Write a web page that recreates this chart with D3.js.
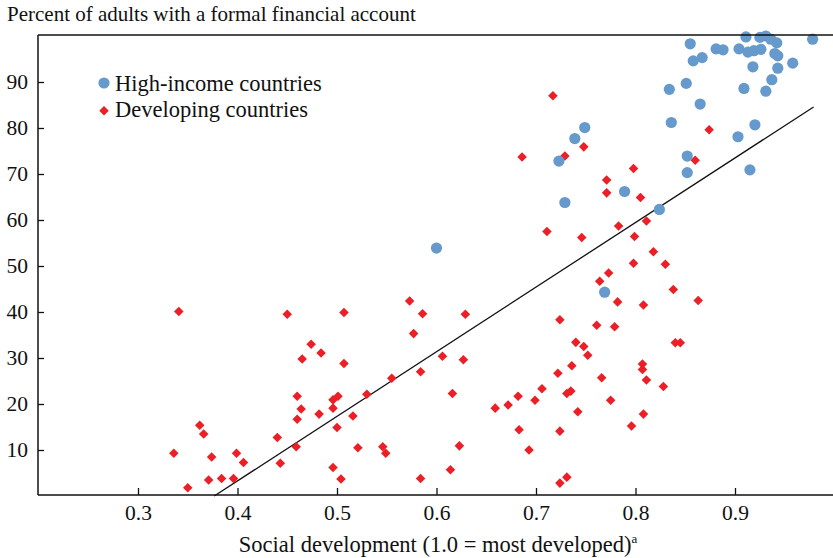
<!DOCTYPE html>
<html><head><meta charset="utf-8">
<script src="https://cdn.jsdelivr.net/npm/d3@7"></script>
<style>body{margin:0;background:#fff}svg{display:block}text{font-family:"Liberation Serif","Times New Roman",serif;fill:#111}</style>
</head><body><svg id="c" width="833" height="558"></svg>
<script>
const highIncomeX = [0.600,0.723,0.729,0.739,0.749,0.769,0.789,0.824,0.834,0.836,0.851,0.852,0.852,0.855,0.858,0.867,0.865,0.881,0.888,0.903,0.904,0.909,0.911,0.913,0.915,0.918,0.919,0.920,0.925,0.926,0.931,0.931,0.936,0.937,0.940,0.942,0.943,0.943,0.958,0.978];
const highIncomeY = [53.9,72.8,63.8,77.7,80.1,44.3,66.2,62.3,88.4,81.2,89.7,73.9,70.3,98.3,94.6,95.3,85.2,97.2,97.0,78.1,97.2,88.6,99.8,96.5,70.9,93.3,96.8,80.7,99.7,97.1,100,88.0,99.3,90.5,96.2,98.5,95.7,93.0,94.1,99.3];
const developingX = [0.341,0.450,0.507,0.474,0.484,0.465,0.507,0.460,0.464,0.460,0.482,0.496,0.501,0.496,0.500,0.362,0.366,0.336,0.374,0.399,0.406,0.440,0.459,0.443,0.496,0.504,0.350,0.371,0.384,0.396,
0.573,0.586,0.629,0.577,0.606,0.627,0.584,0.555,0.530,0.616,0.516,0.659,0.672,0.682,0.683,0.521,0.546,0.549,0.623,0.614,0.584,
0.764,0.782,0.808,0.838,0.724,0.761,0.779,0.740,0.748,0.752,0.736,0.722,0.807,0.807,0.811,0.828,0.766,0.706,0.699,0.731,0.735,0.775,0.742,0.808,0.796,0.724,0.693,0.724,0.731,
0.818,0.830,0.863,0.840,0.845,0.717,0.748,0.686,0.729,0.798,0.771,0.771,0.805,0.811,0.711,0.746,0.783,0.799,0.798,0.773,0.874,0.860];
const developingY = [40.1,39.5,39.9,33.0,31.1,29.8,28.8,21.7,18.9,16.7,17.8,20.9,21.7,19.1,14.9,15.4,13.5,9.3,8.5,9.3,7.3,12.7,10.7,7.1,6.2,3.7,1.8,3.5,3.8,3.8,
42.4,39.6,39.5,35.3,30.4,29.6,27.0,25.6,22.1,22.3,17.4,19.1,19.8,21.7,14.4,10.5,10.7,9.3,10.9,5.7,3.8,
46.7,42.2,41.5,44.9,38.3,37.1,36.8,33.4,32.5,30.6,28.3,26.7,28.7,27.5,25.2,23.8,25.7,23.3,20.8,22.3,22.8,20.8,18.3,17.8,15.2,14.1,10.0,2.8,4.1,
53.1,50.4,42.5,33.3,33.3,87.0,75.9,73.7,73.9,71.2,68.7,65.9,64.9,59.8,57.5,56.2,58.7,56.4,50.6,48.5,79.6,73.0];
const fitLineX = [0.3766, 0.979];
const fitSlope = 140.4, fitIntercept = -52.87;
const xTickValues = [0.3,0.4,0.5,0.6,0.7,0.8,0.9];
const yTickValues = [10,20,30,40,50,60,70,80,90];
const seriesNames = ["High-income countries","Developing countries"];

const svg = d3.select("#c");
const L=38, R=833, T=35, B=495;
const x = d3.scaleLinear().domain([0.2,1.0]).range([L+0.5,L+0.5+796]);
const y = d3.scaleLinear().domain([0,100]).range([B+1,B+1-460]);
const blue="#6699cc", red="#ec1f26";

svg.append("text").attr("x",7).attr("y",21).attr("font-size",21).text("Percent of adults with a formal financial account");

// regression line
svg.append("line").attr("x1",x(fitLineX[0])).attr("y1",y(fitSlope*fitLineX[0]+fitIntercept))
  .attr("x2",x(fitLineX[1])).attr("y2",y(fitSlope*fitLineX[1]+fitIntercept))
  .attr("stroke","#111").attr("stroke-width",1.3);

// developing
const diamond = d3.symbol().type(d3.symbolDiamond2).size(58);
svg.append("g").selectAll("path").data(developingX.map((d,i)=>[d,developingY[i]])).join("path")
  .attr("d",diamond).attr("transform",d=>`translate(${x(d[0])},${y(d[1])})`).attr("fill",red);
// high-income
svg.append("g").selectAll("circle").data(highIncomeX.map((d,i)=>[d,highIncomeY[i]])).join("circle")
  .attr("cx",d=>x(d[0])).attr("cy",d=>y(d[1])).attr("r",5.6).attr("fill",blue);

// frame
const fr = svg.append("g").attr("stroke","#111").attr("stroke-width",1.5);
fr.append("line").attr("x1",L).attr("x2",R).attr("y1",T).attr("y2",T);
fr.append("line").attr("x1",L).attr("x2",R).attr("y1",B).attr("y2",B);
fr.append("line").attr("x1",L).attr("x2",L).attr("y1",T).attr("y2",B);

// axes
const xa = svg.append("g").attr("transform",`translate(0,${B})`)
  .call(d3.axisBottom(x).tickValues(xTickValues).tickFormat(d3.format(".1f")).tickSize(-7).tickPadding(10));
xa.select(".domain").remove();
xa.selectAll("line").attr("stroke","#111").attr("stroke-width",1.3);
xa.selectAll("text").attr("font-size",21.5).attr("font-family","Liberation Serif").attr("fill","#111");

const ya = svg.append("g").attr("transform",`translate(${L},0)`)
  .call(d3.axisLeft(y).tickValues(yTickValues).tickSize(-6).tickPadding(10));
ya.select(".domain").remove();
ya.selectAll("line").attr("stroke","#111").attr("stroke-width",1.3);
ya.selectAll("text").attr("font-size",21.5).attr("font-family","Liberation Serif").attr("fill","#111");

// x label
const xl = svg.append("text").attr("x",438).attr("y",551.5).attr("text-anchor","middle").attr("font-size",22.5);
xl.append("tspan").text("Social development (1.0 = most developed)");
xl.append("tspan").attr("font-size",13).attr("dy",-9).text("a");

// legend
const lg = svg.append("g");
lg.append("circle").attr("cx",104).attr("cy",83).attr("r",5.6).attr("fill",blue);
lg.append("text").attr("x",115).attr("y",90.5).attr("font-size",22.5).text(seriesNames[0]);
lg.append("path").attr("d",diamond).attr("transform","translate(104,110.7)").attr("fill",red);
lg.append("text").attr("x",115).attr("y",117).attr("font-size",22.5).text(seriesNames[1]);
</script></body></html>
